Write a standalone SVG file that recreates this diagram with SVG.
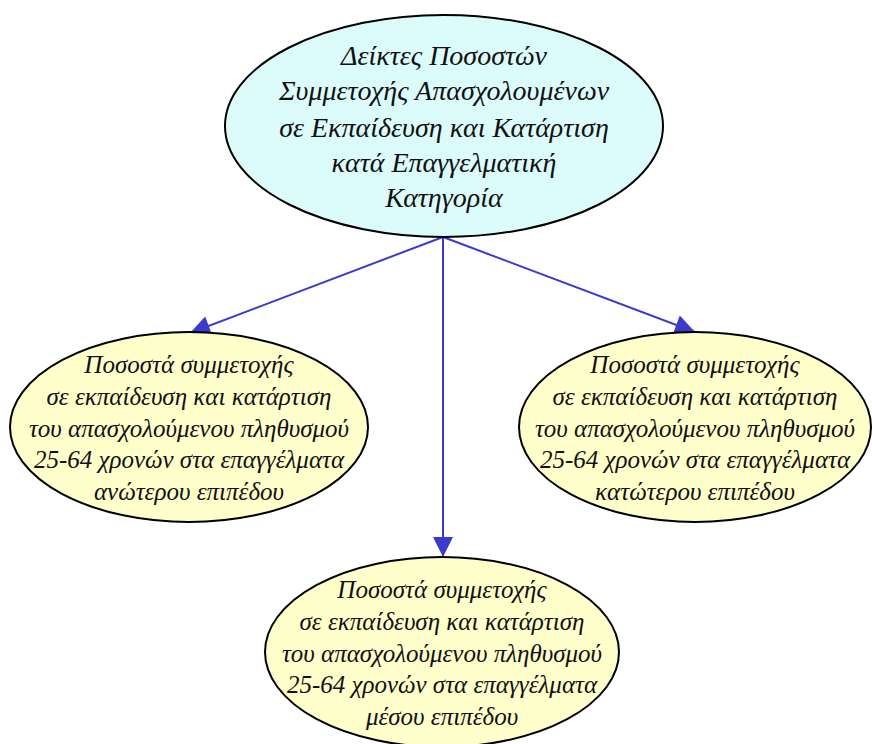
<svg xmlns="http://www.w3.org/2000/svg" width="872" height="744" viewBox="0 0 872 744">
<style>
.root{fill:#dcfcfc;stroke:#000;stroke-width:2}
.leaf{fill:#ffffcc;stroke:#000;stroke-width:2}
text{font-family:"Liberation Serif","DejaVu Serif",serif;font-style:italic;fill:#111;text-anchor:middle}
.t1{font-size:28px}
.t2{font-size:25px}
.edge{stroke:#3a3acc;stroke-width:2;fill:none}
</style>
<defs>
<marker id="arr" markerUnits="userSpaceOnUse" markerWidth="24" markerHeight="24" viewBox="0 0 24 24" refX="22" refY="12" orient="auto">
<path d="M2,2 L22,12 L2,22 Z" fill="#3a3acc"/>
</marker>
</defs>
<rect width="872" height="744" fill="#fff"/>
<g id="connectors">
<path class="edge" d="M443,237 L190,333" marker-end="url(#arr)"/>
<path class="edge" d="M443,237 L443,557" marker-end="url(#arr)"/>
<path class="edge" d="M443,237 L695,332" marker-end="url(#arr)"/>
</g>
<g id="root">
<ellipse class="root" cx="444" cy="126" rx="219" ry="111"/>
<text class="t1" x="444" y="65">Δείκτες Ποσοστών</text>
<text class="t1" x="444" y="100">Συμμετοχής Απασχολουμένων</text>
<text class="t1" x="444" y="137">σε Εκπαίδευση και Κατάρτιση</text>
<text class="t1" x="444" y="172">κατά Επαγγελματική</text>
<text class="t1" x="444" y="207">Κατηγορία</text>
</g>
<g id="upper">
<ellipse class="leaf" cx="189" cy="427" rx="179" ry="95"/>
<text class="t2" x="189" y="373">Ποσοστά συμμετοχής</text>
<text class="t2" x="189" y="405">σε εκπαίδευση και κατάρτιση</text>
<text class="t2" x="189" y="437">του απασχολούμενου πληθυσμού</text>
<text class="t2" x="189" y="468">25-64 χρονών στα επαγγέλματα</text>
<text class="t2" x="189" y="500">ανώτερου επιπέδου</text>
</g>
<g id="lower">
<ellipse class="leaf" cx="695" cy="427" rx="176" ry="95"/>
<text class="t2" x="695" y="373">Ποσοστά συμμετοχής</text>
<text class="t2" x="695" y="405">σε εκπαίδευση και κατάρτιση</text>
<text class="t2" x="695" y="437">του απασχολούμενου πληθυσμού</text>
<text class="t2" x="695" y="468">25-64 χρονών στα επαγγέλματα</text>
<text class="t2" x="695" y="500">κατώτερου επιπέδου</text>
</g>
<g id="middle">
<ellipse class="leaf" cx="442" cy="652" rx="177" ry="95"/>
<text class="t2" x="442" y="598">Ποσοστά συμμετοχής</text>
<text class="t2" x="442" y="630">σε εκπαίδευση και κατάρτιση</text>
<text class="t2" x="442" y="662">του απασχολούμενου πληθυσμού</text>
<text class="t2" x="442" y="693">25-64 χρονών στα επαγγέλματα</text>
<text class="t2" x="442" y="725">μέσου επιπέδου</text>
</g>
</svg>
